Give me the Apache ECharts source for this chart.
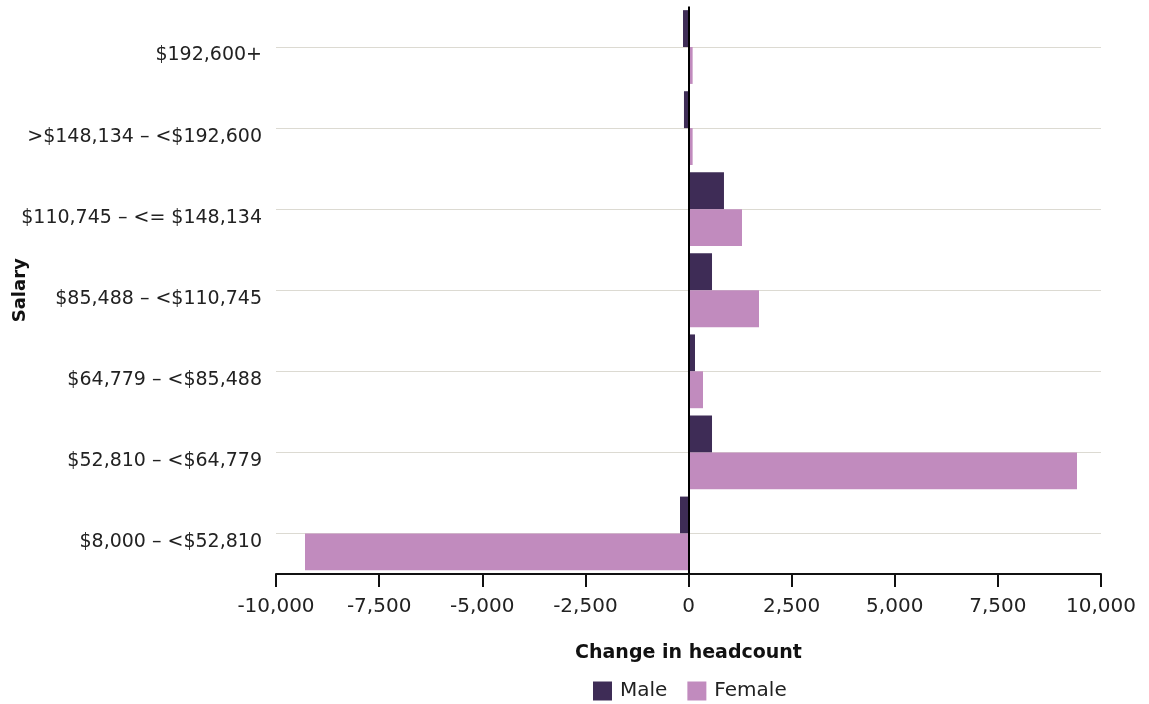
<!DOCTYPE html>
<html>
<head>
<meta charset="utf-8">
<script src="https://cdn.jsdelivr.net/npm/echarts@6/dist/echarts.min.js"></script>
<style>
html,body{margin:0;padding:0;background:#fff;}
#chart{width:1149px;height:704px;}
</style>
</head>
<body>
<div id="chart"></div>
<script>
const categories = [
  "$8,000 – <$52,810",
  "$52,810 – <$64,779",
  "$64,779 – <$85,488",
  "$85,488 – <$110,745",
  "$110,745 – <= $148,134",
  ">$148,134 – <$192,600",
  "$192,600+"
];
const maleValues = [-206, 570, 158, 570, 860, -110, -133];
const femaleValues = [-9297, 9418, 352, 1709, 1297, 100, 100];
const xTicks = [-10000, -7500, -5000, -2500, 0, 2500, 5000, 7500, 10000];

const FONT = "DejaVu Sans";
const TXT = "#222222";

const chart = echarts.init(document.getElementById('chart'), null, {renderer: 'canvas'});
chart.setOption({
  animation: false,
  backgroundColor: '#ffffff',
  textStyle: {fontFamily: FONT},
  grid: {left: 276, right: 48, top: 6.5, bottom: 130, containLabel: false, outerBoundsMode: 'none'},
  legend: {
    data: ['Male', 'Female'],
    top: 676,
    left: 588,
    itemWidth: 19,
    itemHeight: 19,
    itemGap: 20,
    icon: 'rect',
    textStyle: {fontFamily: FONT, fontSize: 20, color: TXT, padding: [0, 0, 0, 3]}
  },
  xAxis: {
    type: 'value',
    min: xTicks[0],
    max: xTicks[xTicks.length - 1],
    interval: 2500,
    name: 'Change in headcount',
    nameLocation: 'middle',
    nameGap: 79,
    nameMoveOverlap: false,
    nameTextStyle: {fontFamily: FONT, fontSize: 19, fontWeight: 'bold', color: '#111', verticalAlign: 'middle'},
    axisLine: {show: true, onZero: false, lineStyle: {color: '#111', width: 2}},
    axisTick: {show: true, length: 13, lineStyle: {color: '#111', width: 2}},
    axisLabel: {
      fontFamily: FONT, fontSize: 20, color: TXT, margin: 23,
      formatter: v => v.toLocaleString('en-US')
    },
    splitLine: {show: false}
  },
  yAxis: {
    type: 'category',
    data: categories,
    name: 'Salary',
    nameLocation: 'middle',
    nameGap: 256,
    nameRotate: 90,
    nameMoveOverlap: false,
    nameTextStyle: {fontFamily: FONT, fontSize: 18, fontWeight: 'bold', color: '#111', verticalAlign: 'middle'},
    axisLine: {show: false, onZero: false},
    axisTick: {show: false},
    axisLabel: {fontFamily: FONT, fontSize: 19, color: TXT, margin: 14, verticalAlign: 'top', lineHeight: 17},
    splitLine: {show: false}
  },
  series: [
    {
      name: 'Male',
      type: 'bar',
      data: maleValues,
      barGap: '0%',
      barCategoryGap: '9%',
      itemStyle: {color: '#3e2c56'},
      z: 2
    },
    {
      name: 'Female',
      type: 'bar',
      data: femaleValues,
      barGap: '0%',
      barCategoryGap: '9%',
      itemStyle: {color: '#c18bbe'},
      z: 2,
      markLine: {
        silent: true,
        z: 10,
        symbol: ['none', 'none'],
        label: {show: false},
        lineStyle: {color: '#000000', width: 2, type: 'solid'},
        emphasis: {disabled: true},
        data: [{xAxis: 0}]
      }
    },
    {
      name: 'gridlines',
      type: 'line',
      data: [],
      z: 1,
      markLine: {
        silent: true,
        z: 1,
        symbol: ['none', 'none'],
        label: {show: false},
        lineStyle: {color: '#dcdad2', width: 1, type: 'solid'},
        emphasis: {disabled: true},
        data: categories.map(c => ({yAxis: c}))
      }
    }
  ]
});
</script>
</body>
</html>
